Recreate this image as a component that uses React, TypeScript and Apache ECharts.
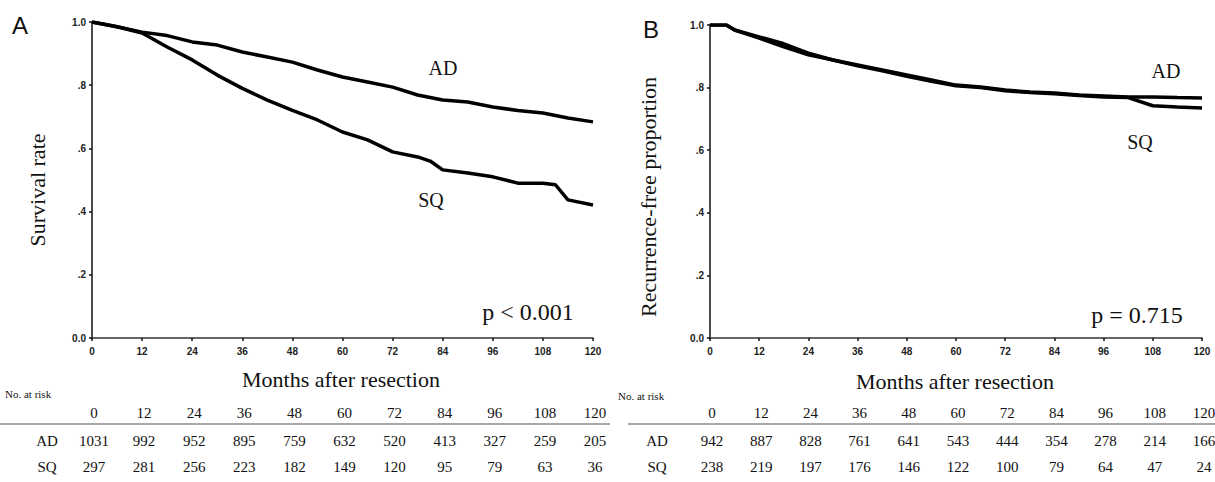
import React, { useEffect, useRef } from "react";
import * as echarts from "echarts";

// ---------- data ----------
const tickMonths = [0, 12, 24, 36, 48, 60, 72, 84, 96, 108, 120];
const yTickLabels = ["0.0", ".2", ".4", ".6", ".8", "1.0"];

// Panel A: overall survival
const monthsA_AD = [0, 6, 12, 18, 24, 30, 36, 42, 48, 54, 60, 66, 72, 78, 84, 90, 96, 102, 108, 114, 120];
const survA_AD = [1.0, 0.985, 0.968, 0.957, 0.937, 0.927, 0.905, 0.889, 0.873, 0.848, 0.826, 0.81, 0.794, 0.769, 0.753, 0.747, 0.731, 0.72, 0.712, 0.696, 0.684];
const monthsA_SQ = [0, 6, 12, 18, 24, 30, 36, 42, 48, 54, 60, 66, 72, 78, 81, 84, 90, 96, 102, 108, 111, 114, 120];
const survA_SQ = [1.0, 0.985, 0.965, 0.921, 0.88, 0.832, 0.79, 0.753, 0.72, 0.69, 0.652, 0.627, 0.589, 0.573, 0.56, 0.532, 0.522, 0.51, 0.49, 0.49, 0.485, 0.437, 0.421];

// Panel B: recurrence-free
const monthsB = [0, 4, 6, 12, 18, 24, 30, 36, 42, 48, 54, 60, 66, 72, 78, 84, 90, 96, 102, 108, 114, 120];
const rfB_AD = [1.0, 1.0, 0.984, 0.962, 0.94, 0.91, 0.888, 0.872, 0.856, 0.84, 0.824, 0.808, 0.802, 0.792, 0.786, 0.783, 0.776, 0.773, 0.77, 0.77, 0.768, 0.767];
const rfB_SQ = [1.0, 1.0, 0.984, 0.958, 0.93, 0.905, 0.888, 0.87, 0.854, 0.836, 0.82, 0.806, 0.8, 0.79, 0.784, 0.78, 0.775, 0.77, 0.768, 0.742, 0.738, 0.735];

// Numbers at risk
const riskA_AD = [1031, 992, 952, 895, 759, 632, 520, 413, 327, 259, 205];
const riskA_SQ = [297, 281, 256, 223, 182, 149, 120, 95, 79, 63, 36];
const riskB_AD = [942, 887, 828, 761, 641, 543, 444, 354, 278, 214, 166];
const riskB_SQ = [238, 219, 197, 176, 146, 122, 100, 79, 64, 47, 24];

const SERIF = "'Liberation Serif', 'Times New Roman', serif";
const SANS = "'Liberation Sans', Arial, sans-serif";
const INK = "#111";

function pairs(xs: number[], ys: number[]) {
  return xs.map((x, i) => [x, ys[i]]);
}

function xAxisCfg(gridIndex: number) {
  return {
    type: "value" as const,
    gridIndex,
    min: 0,
    max: 120,
    interval: 12,
    axisLine: { show: true, lineStyle: { color: "#333", width: 1.5 } },
    axisTick: { show: true, length: 3, lineStyle: { color: INK, width: 1.5 } },
    axisLabel: { color: "#222", fontFamily: SANS, fontSize: 10, fontWeight: "bold", margin: 8 },
    splitLine: { show: false },
  };
}

function yAxisCfg(gridIndex: number) {
  return {
    type: "value" as const,
    gridIndex,
    min: 0,
    max: 1,
    interval: 0.2,
    axisLine: { show: true, lineStyle: { color: INK, width: 1.5 } },
    axisTick: { show: true, length: 3, lineStyle: { color: INK, width: 1.5 } },
    axisLabel: {
      color: "#222",
      fontFamily: SANS,
      fontSize: 10,
      fontWeight: "bold",
      margin: 6,
      formatter: (v: number) => yTickLabels[Math.round(v * 5)] ?? "",
    },
    splitLine: { show: false },
  };
}

function lineSeries(name: string, idx: number, data: number[][]) {
  return {
    type: "line" as const,
    name,
    xAxisIndex: idx,
    yAxisIndex: idx,
    data,
    showSymbol: false,
    symbol: "none",
    lineStyle: { color: "#000", width: 3.5 },
    silent: true,
  };
}

function txt(text: string, x: number, y: number, font: string, opts: any = {}) {
  return {
    type: "text",
    x,
    y,
    rotation: opts.rotation ?? 0,
    silent: true,
    style: {
      text,
      font,
      fill: opts.fill ?? INK,
      textAlign: opts.align ?? "center",
      align: opts.align ?? "center",
      textVerticalAlign: "middle",
      verticalAlign: "middle",
    },
  };
}

export default function App() {
  const ref = useRef<HTMLDivElement>(null);

  useEffect(() => {
    document.body.style.margin = "0";
    const chart = echarts.init(ref.current!, null, { renderer: "svg" });
    chart.setOption({
      animation: false,
      backgroundColor: "#fff",
      grid: [
        { left: 92, top: 22, width: 501, height: 316 },
        { left: 710, top: 25, width: 492, height: 313 },
      ],
      xAxis: [xAxisCfg(0), xAxisCfg(1)],
      yAxis: [yAxisCfg(0), yAxisCfg(1)],
      series: [
        lineSeries("AD", 0, pairs(monthsA_AD, survA_AD)),
        lineSeries("SQ", 0, pairs(monthsA_SQ, survA_SQ)),
        lineSeries("AD", 1, pairs(monthsB, rfB_AD)),
        lineSeries("SQ", 1, pairs(monthsB, rfB_SQ)),
      ],
    });

    const g: any[] = [];
    // panel letters
    g.push(txt("A", 20, 25, `24px ${SANS}`));
    g.push(txt("B", 651, 29, `24px ${SANS}`));
    // y titles
    g.push(txt("Survival rate", 37, 190, `22px ${SERIF}`, { rotation: Math.PI / 2 }));
    g.push(txt("Recurrence-free proportion", 648, 197, `22px ${SERIF}`, { rotation: Math.PI / 2 }));
    // x titles
    g.push(txt("Months after resection", 341, 379, `22px ${SERIF}`));
    g.push(txt("Months after resection", 955, 381, `22px ${SERIF}`));
    // curve labels
    g.push(txt("AD", 443, 68, `20px ${SERIF}`));
    g.push(txt("SQ", 431, 200, `20px ${SERIF}`));
    g.push(txt("AD", 1166, 71, `20px ${SERIF}`));
    g.push(txt("SQ", 1140, 142, `20px ${SERIF}`));
    // p values
    g.push(txt("p < 0.001", 528, 312, `24px ${SERIF}`));
    g.push(txt("p = 0.715", 1137, 315, `24px ${SERIF}`));

    // at-risk tables
    const tables = [
      { axis: 0, ad: riskA_AD, sq: riskA_SQ, labelX: 47, noX: 5, noY: 394, lineX1: 0, lineX2: 610 },
      { axis: 1, ad: riskB_AD, sq: riskB_SQ, labelX: 657, noX: 618, noY: 396, lineX1: 628, lineX2: 1215 },
    ];
    const headY = 413, lineY = 424, adY = 441, sqY = 467;
    tables.forEach((t) => {
      g.push(txt("No. at risk", t.noX, t.noY, `11px ${SERIF}`, { align: "left" }));
      g.push({
        type: "line",
        silent: true,
        shape: { x1: t.lineX1, y1: lineY, x2: t.lineX2, y2: lineY },
        style: { stroke: "#555", lineWidth: 1.2 },
      });
      g.push(txt("AD", t.labelX, adY, `15px ${SERIF}`));
      g.push(txt("SQ", t.labelX, sqY, `15px ${SERIF}`));
      tickMonths.forEach((m, i) => {
        const px = chart.convertToPixel({ xAxisIndex: t.axis }, m) as number;
        const cx = px + 2;
        g.push(txt(String(m), cx, headY, `15px ${SERIF}`));
        g.push(txt(String(t.ad[i]), cx, adY, `15px ${SERIF}`));
        g.push(txt(String(t.sq[i]), cx, sqY, `15px ${SERIF}`));
      });
    });
    chart.setOption({ graphic: g });

    return () => chart.dispose();
  }, []);

  return <div ref={ref} style={{ width: 1215, height: 482 }} />;
}
